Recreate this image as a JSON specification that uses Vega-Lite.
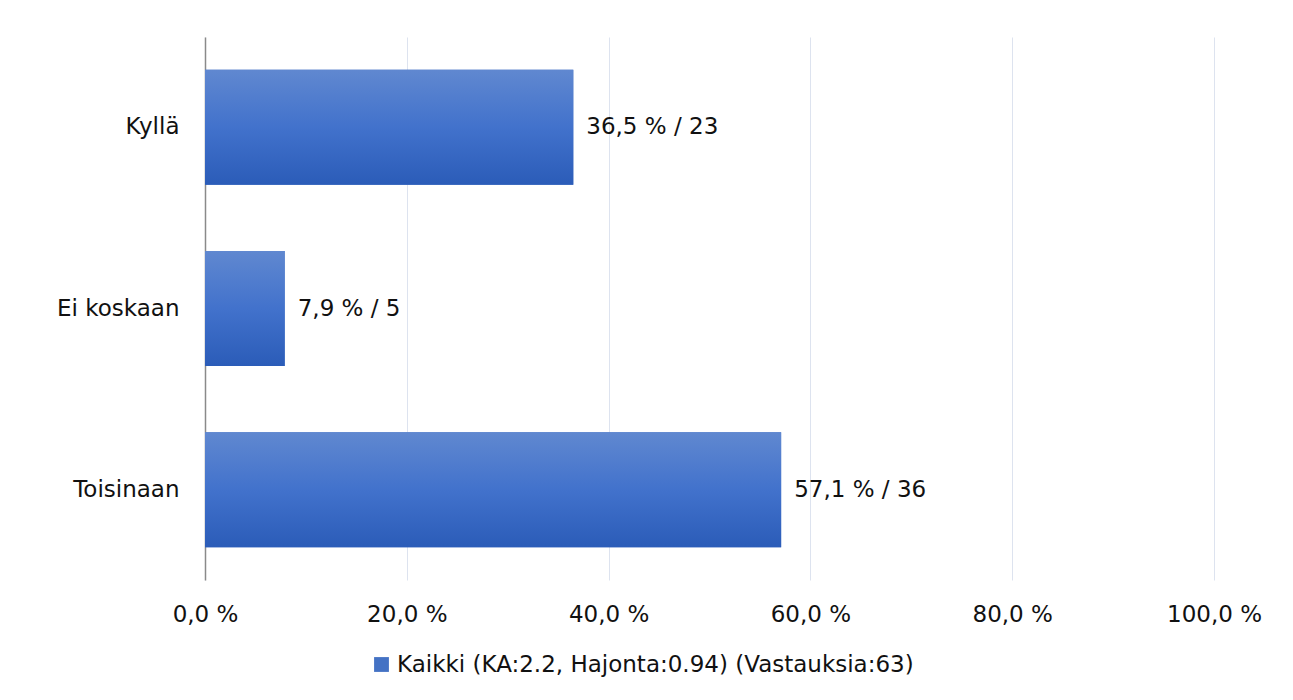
{
  "$schema": "https://vega.github.io/schema/vega-lite/v6.json",
  "autosize": {"type": "none"},
  "width": 1009,
  "height": 543,
  "padding": {"left": 205, "top": 37, "right": 79, "bottom": 120},
  "background": "white",
  "config": {
    "view": {"stroke": null},
    "font": "DejaVu Sans",
    "axis": {"labelFont": "DejaVu Sans", "labelColor": "#111111"},
    "legend": {"labelFont": "DejaVu Sans"}
  },
  "data": {
    "values": [
      {"vastaus": "Kyllä", "pct": 36.5, "n": 23, "label": "36,5 % / 23", "sarja": "Kaikki (KA:2.2, Hajonta:0.94) (Vastauksia:63)"},
      {"vastaus": "Ei koskaan", "pct": 7.9, "n": 5, "label": "7,9 % / 5", "sarja": "Kaikki (KA:2.2, Hajonta:0.94) (Vastauksia:63)"},
      {"vastaus": "Toisinaan", "pct": 57.1, "n": 36, "label": "57,1 % / 36", "sarja": "Kaikki (KA:2.2, Hajonta:0.94) (Vastauksia:63)"}
    ]
  },
  "encoding": {
    "y": {
      "field": "vastaus", "type": "nominal", "sort": null,
      "scale": {"paddingInner": 0.365, "paddingOuter": 0.18},
      "axis": {
        "title": null, "ticks": false, "domain": true, "domainColor": "#8a8a8a", "domainWidth": 1.5,
        "labelFontSize": 23, "labelPadding": 26, "grid": false
      }
    },
    "x": {
      "field": "pct", "type": "quantitative",
      "scale": {"domain": [0, 100], "nice": false},
      "axis": {
        "title": null, "values": [0, 20, 40, 60, 80, 100], "domain": false, "ticks": false,
        "grid": true, "gridColor": "#dde3ef", "gridWidth": 1,
        "labelFontSize": 23, "labelPadding": 23, "labelFlush": false, "labelAlign": "center",
        "labelExpr": "replace(format(datum.value, '.1f'), '.', ',') + ' %'"
      }
    }
  },
  "layer": [
    {
      "mark": {"type": "bar"},
      "encoding": {
        "color": {
          "field": "sarja", "type": "nominal",
          "scale": {"range": ["#4472c4"]},
          "legend": {
            "title": null, "orient": "none", "legendX": 165, "legendY": 616,
            "symbolType": "square", "symbolSize": 220, "symbolStrokeWidth": 0,
            "labelFontSize": 23, "labelOffset": 4, "labelColor": "#111111", "labelLimit": 900
          }
        }
      }
    },
    {
      "mark": {
        "type": "bar",
        "color": {
          "gradient": "linear", "x1": 0, "y1": 0, "x2": 0, "y2": 1,
          "stops": [
            {"offset": 0, "color": "#6088d0"},
            {"offset": 0.5, "color": "#4272cc"},
            {"offset": 1, "color": "#2b5cb8"}
          ]
        }
      }
    },
    {
      "mark": {"type": "text", "align": "left", "baseline": "middle", "dx": 13, "fontSize": 23, "color": "#111111"},
      "encoding": {"text": {"field": "label"}}
    }
  ]
}
